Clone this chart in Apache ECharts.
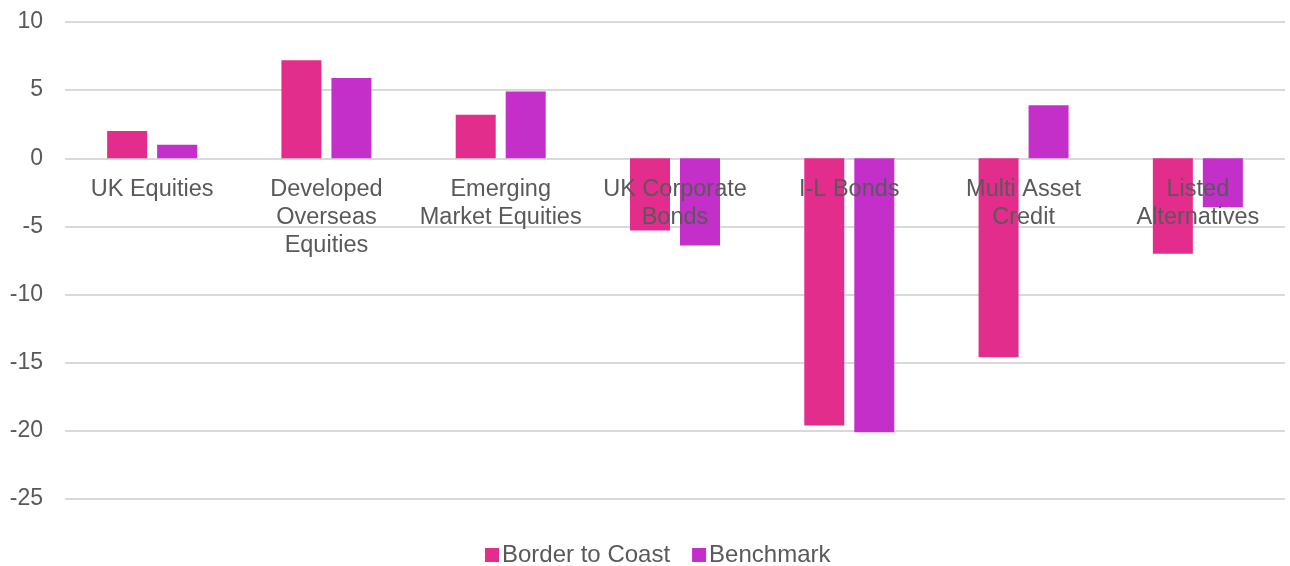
<!DOCTYPE html>
<html>
<head>
<meta charset="utf-8">
<script src="https://cdn.jsdelivr.net/npm/echarts@6/dist/echarts.min.js"></script>
<style>
  html, body { margin: 0; padding: 0; background: #ffffff; }
  #chart { width: 1290px; height: 566px; }
</style>
</head>
<body>
<div id="chart"></div>
<script>
// Asset classes along the x axis (line breaks as they wrap under the zero line)
const categories = [
  'UK Equities',
  'Developed\nOverseas\nEquities',
  'Emerging\nMarket Equities',
  'UK Corporate\nBonds',
  'I-L Bonds',
  'Multi Asset\nCredit',
  'Listed\nAlternatives'
];

// Returns (%) per asset class
const borderToCoast = [2.0, 7.2, 3.2, -5.3, -19.6, -14.6, -7.0];
const benchmark     = [1.0, 5.9, 4.9, -6.4, -20.1, 3.9, -3.6];

const seriesNames = ['Border to Coast', 'Benchmark'];
const seriesColors = ['#E22D8D', '#C42FC9'];

const chart = echarts.init(document.getElementById('chart'));

chart.setOption({
  animation: false,
  textStyle: { fontFamily: 'Liberation Sans, Arial, sans-serif' },
  grid: {
    left: 65, right: 5, top: 22, bottom: 67,
    containLabel: false,
    outerBoundsMode: 'none'
  },
  legend: {
    top: 538,
    left: 480,
    itemWidth: 14,
    itemHeight: 14,
    itemGap: 22,
    icon: 'rect',
    textStyle: { fontSize: 24, color: '#595959', padding: [0, 0, 0, -2] },
    data: seriesNames
  },
  xAxis: {
    type: 'category',
    data: categories,
    z: 10,
    axisLine: { show: false, onZero: true },
    axisTick: { show: false },
    axisLabel: {
      interval: 0,
      fontSize: 23.5,
      lineHeight: 28,
      color: '#595959',
      margin: 17
    }
  },
  yAxis: {
    type: 'value',
    min: -25,
    max: 10,
    interval: 5,
    axisLine: { show: false },
    axisTick: { show: false },
    axisLabel: { fontSize: 23, color: '#595959', margin: 22 },
    splitLine: { lineStyle: { color: '#D9D9D9', width: 2 } }
  },
  series: [
    {
      name: seriesNames[0],
      type: 'bar',
      data: borderToCoast,
      barWidth: 40,
      barGap: '25%',
      itemStyle: { color: seriesColors[0] }
    },
    {
      name: seriesNames[1],
      type: 'bar',
      data: benchmark,
      barWidth: 40,
      itemStyle: { color: seriesColors[1] }
    }
  ]
});

// Keep the category axis labels on the zero line of the value axis
const zeroY = chart.convertToPixel({ yAxisIndex: 0 }, 0);
const bottomY = chart.convertToPixel({ yAxisIndex: 0 }, -25);
if (Math.abs(bottomY - zeroY) > 1) {
  chart.setOption({ xAxis: { offset: zeroY - bottomY } });
}
</script>
</body>
</html>
